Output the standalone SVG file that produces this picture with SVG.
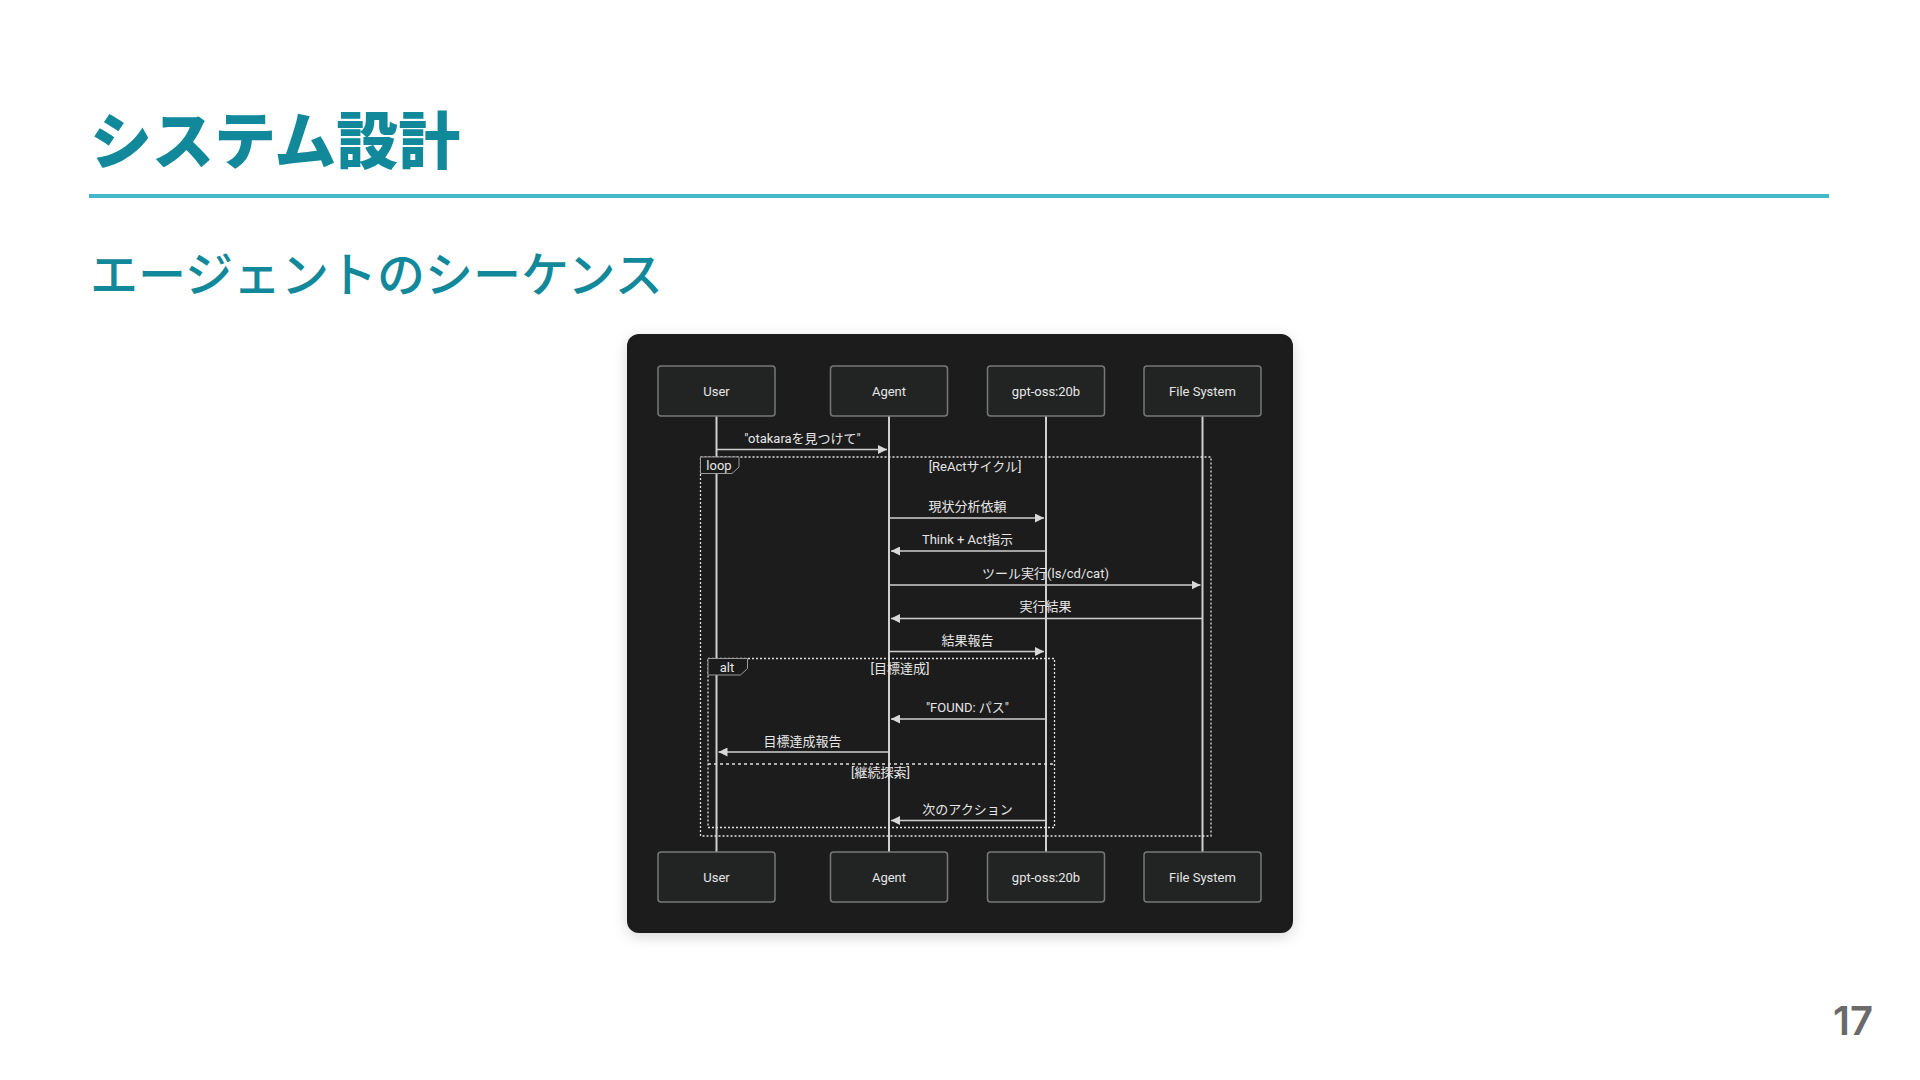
<svg xmlns="http://www.w3.org/2000/svg" width="1920" height="1080" viewBox="0 0 1920 1080">
<defs>
<style>
.title{font-family:"Noto Sans CJK JP","Noto Sans",sans-serif;font-weight:900;font-size:62px;fill:#12899b}
.sub{font-family:"Noto Sans CJK JP","Noto Sans",sans-serif;font-weight:500;font-size:48px;fill:#12899b}
.pg{font-family:"Inter","Noto Sans",sans-serif;font-weight:600;font-size:40px;fill:#6a6a6a}
.actor rect{fill:#222424;stroke:#777;stroke-width:1.5}
.actor text,.msg text,.frame text{font-family:Roboto,"Noto Sans CJK JP",sans-serif;font-size:13px;fill:#e6e6e6;text-anchor:middle}
.life{stroke:#cfcfcf;stroke-width:2}
.msg line{stroke:#cfcfcf;stroke-width:1.6}
.fr{fill:none;stroke:#e0e0e0;stroke-width:1.3;stroke-dasharray:2 2}
.tab{fill:#1b1b1b;stroke:#9a9a9a;stroke-width:1}
.div{stroke:#e0e0e0;stroke-width:1.3;stroke-dasharray:3 3}
</style>
<marker id="ah" viewBox="0 0 10 10" refX="10" refY="5" markerWidth="9" markerHeight="9" markerUnits="userSpaceOnUse" orient="auto-start-reverse">
<path d="M0,0 L10,5 L0,10 z" fill="#d8d8d8"/>
</marker>
<filter id="sh" x="-10%" y="-10%" width="120%" height="125%">
<feDropShadow dx="0" dy="4" stdDeviation="7" flood-color="#000" flood-opacity="0.15"/>
</filter>
</defs>
<rect width="1920" height="1080" fill="#fff"/>
<text class="title" x="90" y="164">システム設計</text>
<rect x="89" y="194" width="1740" height="4" fill="#45b8c8"/>
<text class="sub" x="90" y="292">エージェントのシーケンス</text>
<text class="pg" x="1873" y="1035" text-anchor="end">17</text>

<rect x="627" y="334" width="666" height="599" rx="12" fill="#1b1b1b" filter="url(#sh)"/>

<g id="lifelines">
<line class="life" x1="716.5" y1="416" x2="716.5" y2="852"/>
<line class="life" x1="889" y1="416" x2="889" y2="852"/>
<line class="life" x1="1046" y1="416" x2="1046" y2="852"/>
<line class="life" x1="1202.5" y1="416" x2="1202.5" y2="852"/>
</g>

<g id="actor-user-top" class="actor"><rect x="658" y="366" width="117" height="50" rx="3"/><text x="716.5" y="395.5">User</text></g>
<g id="actor-agent-top" class="actor"><rect x="830.5" y="366" width="117" height="50" rx="3"/><text x="889" y="395.5">Agent</text></g>
<g id="actor-gpt-top" class="actor"><rect x="987.5" y="366" width="117" height="50" rx="3"/><text x="1046" y="395.5">gpt-oss:20b</text></g>
<g id="actor-fs-top" class="actor"><rect x="1144" y="366" width="117" height="50" rx="3"/><text x="1202.5" y="395.5">File System</text></g>

<g id="actor-user-bottom" class="actor"><rect x="658" y="852" width="117" height="50" rx="3"/><text x="716.5" y="881.5">User</text></g>
<g id="actor-agent-bottom" class="actor"><rect x="830.5" y="852" width="117" height="50" rx="3"/><text x="889" y="881.5">Agent</text></g>
<g id="actor-gpt-bottom" class="actor"><rect x="987.5" y="852" width="117" height="50" rx="3"/><text x="1046" y="881.5">gpt-oss:20b</text></g>
<g id="actor-fs-bottom" class="actor"><rect x="1144" y="852" width="117" height="50" rx="3"/><text x="1202.5" y="881.5">File System</text></g>

<g id="frames" class="frame">
<rect class="fr" x="700.5" y="457" width="510.5" height="379"/>
<path class="tab" d="M700.5,457 H739 V467 L732,473.5 H700.5 Z"/>
<text x="719" y="470">loop</text>
<text x="975" y="470.5">[ReActサイクル]</text>
<rect class="fr" x="708" y="658.5" width="346.5" height="169"/>
<path class="tab" d="M708,658.5 H747.5 V668.5 L740.5,675 H708 Z"/>
<text x="727" y="671.5">alt</text>
<text x="900" y="672.5">[目標達成]</text>
<line class="div" x1="708" y1="764" x2="1054.5" y2="764"/>
<text x="880.5" y="776.5">[継続探索]</text>
</g>

<g id="connectors" class="msg">
<line x1="716.5" y1="449.5" x2="887" y2="449.5" marker-end="url(#ah)"/>
<text x="802.5" y="442.5">"otakaraを見つけて"</text>
<line x1="889" y1="518" x2="1044" y2="518" marker-end="url(#ah)"/>
<text x="967.5" y="511">現状分析依頼</text>
<line x1="1046" y1="551" x2="891" y2="551" marker-end="url(#ah)"/>
<text x="967.5" y="544">Think + Act指示</text>
<line x1="889" y1="585" x2="1200.5" y2="585" marker-end="url(#ah)"/>
<text x="1045.5" y="577.5">ツール実行(ls/cd/cat)</text>
<line x1="1202.5" y1="618.5" x2="891" y2="618.5" marker-end="url(#ah)"/>
<text x="1045.5" y="611">実行結果</text>
<line x1="889" y1="651.5" x2="1044" y2="651.5" marker-end="url(#ah)"/>
<text x="967.5" y="644.5">結果報告</text>
<line x1="1046" y1="719" x2="891" y2="719" marker-end="url(#ah)"/>
<text x="967.5" y="712">"FOUND: パス"</text>
<line x1="889" y1="752" x2="718.5" y2="752" marker-end="url(#ah)"/>
<text x="802.5" y="746">目標達成報告</text>
<line x1="1046" y1="820.5" x2="891" y2="820.5" marker-end="url(#ah)"/>
<text x="967.5" y="813.5">次のアクション</text>
</g>
</svg>
